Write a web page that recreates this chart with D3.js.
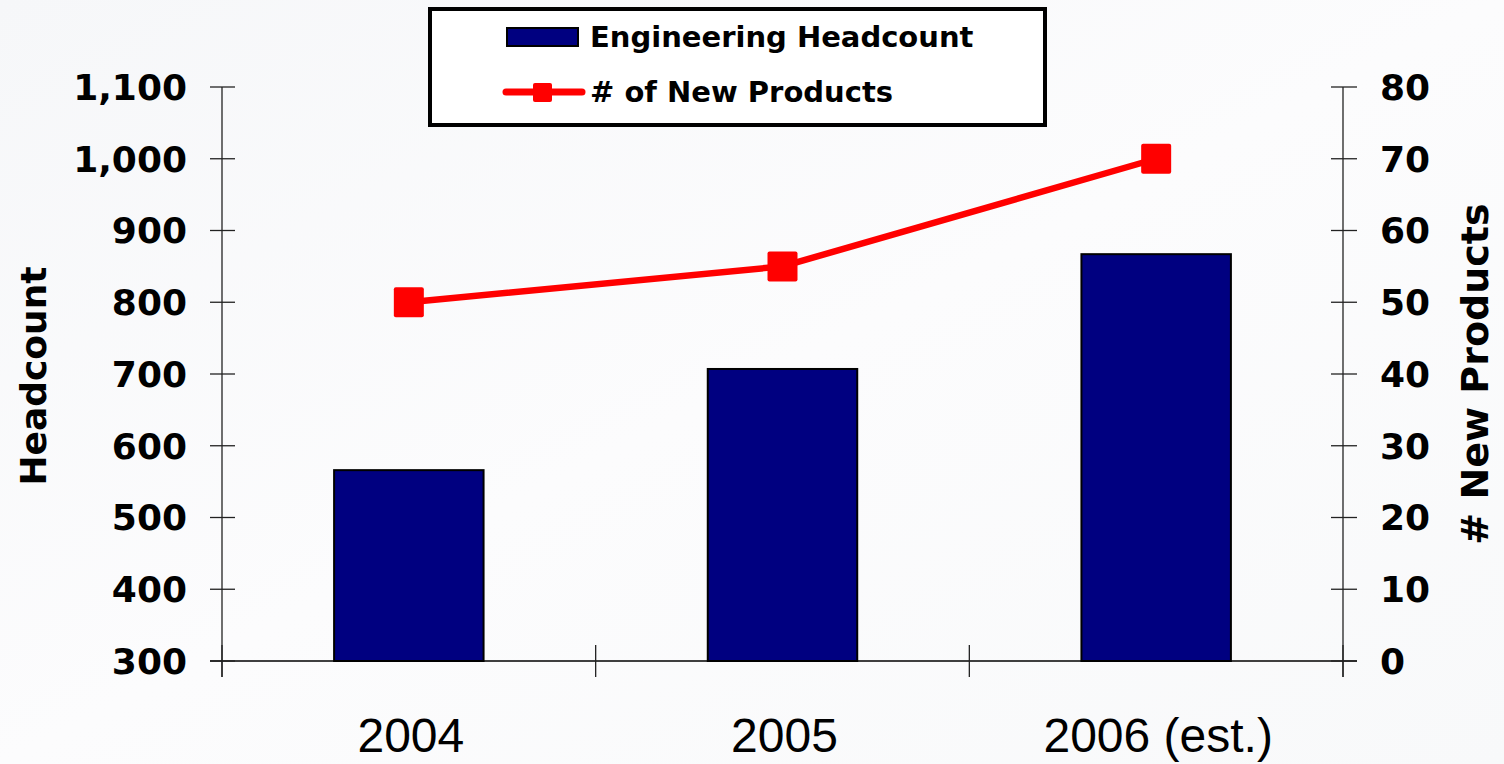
<!DOCTYPE html>
<html><head><meta charset="utf-8">
<script src="https://cdn.jsdelivr.net/npm/d3@7"></script>
<style>html,body{margin:0;padding:0;overflow:hidden;background:#fafbfc;}</style>
</head><body>
<svg id="chart" width="1504" height="764"></svg>
<script>
const categories = ["2004", "2005", "2006 (est.)"];
const headcount = [566, 707, 867];
const newProducts = [50, 55, 70];
const leftTicks = [300, 400, 500, 600, 700, 800, 900, 1000, 1100];
const rightTicks = [0, 10, 20, 30, 40, 50, 60, 70, 80];
const seriesNames = ["Engineering Headcount", "# of New Products"];

const svg = d3.select("#chart");
const defs = svg.append("defs");
const grad = defs.append("linearGradient").attr("id","bg").attr("x1","0").attr("y1","0").attr("x2","1").attr("y2","1");
grad.append("stop").attr("offset","0").attr("stop-color","#f6f7f9");
grad.append("stop").attr("offset","0.5").attr("stop-color","#fcfcfd");
grad.append("stop").attr("offset","1").attr("stop-color","#f8f9fa");
svg.append("rect").attr("width",1504).attr("height",764).attr("fill","url(#bg)");

const L = 222, R = 1343, T = 87, B = 661;
const x = d3.scaleBand().domain(categories).range([L, R]).padding(0);
const yL = d3.scaleLinear().domain([300, 1100]).range([B, T]);
const yR = d3.scaleLinear().domain([0, 80]).range([B, T]);
const barW = x.bandwidth() * 0.4;

// bars
svg.append("g").selectAll("rect").data(categories).join("rect")
  .attr("x", d => x(d) + x.bandwidth()/2 - barW/2)
  .attr("y", (d,i) => yL(headcount[i]))
  .attr("width", barW)
  .attr("height", (d,i) => B - yL(headcount[i]))
  .attr("fill", "#000080").attr("stroke", "#000").attr("stroke-width", 2);

// axes lines
const axisG = svg.append("g").attr("stroke", "#222").attr("stroke-width", 1.3);
axisG.append("line").attr("x1", L).attr("x2", L).attr("y1", T).attr("y2", B + 16);
axisG.append("line").attr("x1", R).attr("x2", R).attr("y1", T).attr("y2", B + 16);
axisG.append("line").attr("x1", L - 12).attr("x2", R + 14).attr("y1", B).attr("y2", B).attr("stroke","#000").attr("stroke-width",1.6);
axisG.selectAll(".lt").data(leftTicks).join("line")
  .attr("x1", L - 12).attr("x2", L + 13).attr("y1", d => yL(d)).attr("y2", d => yL(d));
axisG.selectAll(".rt").data(rightTicks).join("line")
  .attr("x1", R - 12).attr("x2", R + 14).attr("y1", d => yR(d)).attr("y2", d => yR(d));
const xb = x.domain().map(d => x(d)).concat([R]);
axisG.selectAll(".xt").data(xb).join("line")
  .attr("x1", d => d).attr("x2", d => d).attr("y1", B - 16).attr("y2", B + 16);

// tick labels
const tickFont = "'DejaVu Sans', sans-serif";
svg.append("g").selectAll("text").data(leftTicks).join("text")
  .attr("x", 187).attr("y", d => yL(d)).attr("dy", "0.36em")
  .attr("text-anchor", "end").attr("font-family", tickFont).attr("font-weight", "bold")
  .attr("font-size", 36).attr("fill", "#000")
  .text(d => d3.format(",")(d));
svg.append("g").selectAll("text").data(rightTicks).join("text")
  .attr("x", 1380).attr("y", d => yR(d)).attr("dy", "0.36em")
  .attr("text-anchor", "start").attr("font-family", tickFont).attr("font-weight", "bold")
  .attr("font-size", 36).attr("fill", "#000")
  .text(d => d);
svg.append("g").selectAll("text").data(categories).join("text")
  .attr("x", d => x(d) + x.bandwidth()/2 + 2).attr("y", 752)
  .attr("text-anchor", "middle").attr("font-family", "'Liberation Sans', Arial, sans-serif")
  .attr("font-size", 48).attr("fill", "#000")
  .text(d => d);

// axis titles
svg.append("text").attr("transform", "translate(46,376) rotate(-90)")
  .attr("text-anchor", "middle").attr("font-family", tickFont).attr("font-weight", "bold")
  .attr("font-size", 36).attr("fill", "#000").text("Headcount");
svg.append("text").attr("transform", "translate(1488,374) rotate(-90)")
  .attr("text-anchor", "middle").attr("font-family", tickFont).attr("font-weight", "bold")
  .attr("font-size", 38).attr("fill", "#000").text("# New Products");

// line
const line = d3.line().x((d,i) => x(categories[i]) + x.bandwidth()/2).y(d => yR(d));
svg.append("path").datum(newProducts).attr("d", line)
  .attr("fill", "none").attr("stroke", "#ff0000").attr("stroke-width", 6.5).attr("stroke-linejoin","round");
const ms = 30;
svg.append("g").selectAll("rect").data(newProducts).join("rect")
  .attr("x", (d,i) => x(categories[i]) + x.bandwidth()/2 - ms/2)
  .attr("y", d => yR(d) - ms/2)
  .attr("width", ms).attr("height", ms).attr("rx", 2)
  .attr("fill", "#ff0000");

// legend
const lg = svg.append("g");
lg.append("rect").attr("x", 430).attr("y", 9).attr("width", 615).attr("height", 116)
  .attr("fill", "#fff").attr("stroke", "#000").attr("stroke-width", 4);
lg.append("rect").attr("x", 507).attr("y", 28).attr("width", 71).attr("height", 18)
  .attr("fill", "#000080").attr("stroke", "#000").attr("stroke-width", 2);
lg.append("line").attr("x1", 506).attr("x2", 582).attr("y1", 92).attr("y2", 92)
  .attr("stroke", "#ff0000").attr("stroke-width", 7).attr("stroke-linecap","round");
lg.append("rect").attr("x", 533).attr("y", 83).attr("width", 19).attr("height", 19).attr("rx",2).attr("fill", "#ff0000");
lg.selectAll("text").data(seriesNames).join("text")
  .attr("x", 590).attr("y", (d,i) => i === 0 ? 37 : 92).attr("dy", "0.36em")
  .attr("font-family", tickFont).attr("font-weight", "bold").attr("font-size", 29)
  .attr("fill", "#000").text(d => d);
</script>
</body></html>
